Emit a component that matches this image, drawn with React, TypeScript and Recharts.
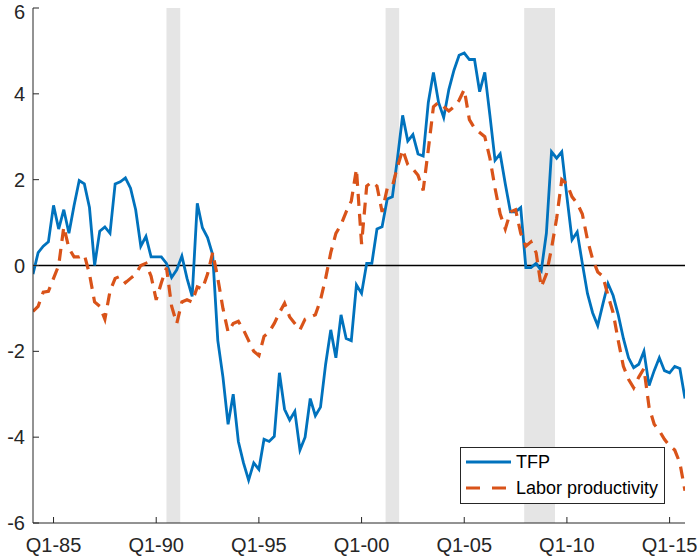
import React from 'react';
import { LineChart, Line, XAxis, YAxis, ReferenceArea, ReferenceLine, Legend } from 'recharts';

// quarterly series, Q1-84 .. Q4-15
const firstYear = 1984;

const tfp = [
  -0.2, 0.3, 0.45, 0.55, 1.4, 0.85, 1.3, 0.75, 1.4, 1.98,
  1.9, 1.35, 0.0, 0.8, 0.9, 0.75, 1.9, 1.95, 2.04, 1.8,
  1.3, 0.45, 0.68, 0.2, 0.2, 0.2, 0.05, -0.28, -0.1, 0.22,
  -0.3, -0.72, 1.45, 0.88, 0.65, 0.25, -1.75, -2.6, -3.7, -3.0,
  -4.1, -4.6, -5.0, -4.6, -4.75, -4.05, -4.1, -3.98, -2.5, -3.35,
  -3.6, -3.4, -4.3, -4.0, -3.1, -3.5, -3.3, -2.3, -1.5, -2.15,
  -1.15, -1.7, -1.75, -0.45, -0.65, 0.05, 0.05, 0.85, 0.9, 1.55,
  1.6, 2.5, 3.5, 2.9, 3.05, 2.6, 2.55, 3.8, 4.5, 3.8,
  3.45, 4.1, 4.55, 4.9, 4.95, 4.8, 4.8, 4.05, 4.5, 3.5,
  2.45, 2.6, 1.9, 1.25, 1.25, 1.35, -0.05, -0.05, 0.05, -0.12,
  0.75, 2.65, 2.5, 2.65, 1.6, 0.6, 0.78, 0.05, -0.65, -1.1,
  -1.4, -0.9, -0.42, -0.7, -1.15, -1.7, -2.15, -2.38, -2.3, -2.0,
  -2.8, -2.45, -2.15, -2.45, -2.5, -2.35, -2.4, -3.1,
];

const laborProductivity = [
  -1.07, -0.95, -0.62, -0.6, -0.3, 0.0, 0.9, 0.4, 0.2, 0.2,
  0.25, -0.2, -0.85, -0.95, -1.25, -0.6, -0.3, -0.25, -0.4, -0.3,
  -0.2, 0.0, 0.05, -0.25, -0.8, -0.4, -0.05, -0.95, -1.35, -0.85,
  -0.8, -0.85, -0.5, -0.55, -0.2, 0.3, -0.3, -1.0, -1.55, -1.35,
  -1.3, -1.5, -1.75, -2.0, -2.1, -1.65, -1.55, -1.35, -1.1, -0.88,
  -1.2, -1.35, -1.5, -1.25, -1.2, -1.15, -0.8, -0.3, 0.3, 0.75,
  0.95, 1.25, 1.5, 2.25, 0.5, 1.85, 1.95, 1.85, 1.25, 1.8,
  1.85, 2.3, 2.7, 2.35, 2.25, 2.1, 1.75, 2.7, 3.7, 3.8,
  3.7, 3.6, 3.7, 3.85, 4.1, 3.4, 3.2, 3.1, 3.0, 2.5,
  1.8, 1.2, 0.85, 1.25, 1.3, 0.75, 0.45, 0.55, 0.3, -0.5,
  -0.2, 0.4, 1.1, 2.0, 1.9, 1.6, 1.45, 1.2, 0.6, 0.15,
  -0.15, -0.25, -0.7, -1.1, -1.75, -2.35, -2.65, -2.85, -2.6, -2.4,
  -3.3, -3.7, -3.85, -4.05, -4.2, -4.3, -4.6, -5.25,
];

const seriesNames = ['TFP', 'Labor productivity'];
const yearTicks = [1985, 1990, 1995, 2000, 2005, 2010, 2015];
const valueTicks = [-6, -4, -2, 0, 2, 4, 6];

// NBER recessions as fractional years
const recessionStart = [1990.5, 2001.17, 2007.92];
const recessionEnd = [1991.17, 2001.83, 2009.42];

const data = tfp.map((v, i) => ({
  t: firstYear + i / 4,
  tfp: v,
  labor: laborProductivity[i],
}));
const xDomain = [firstYear, firstYear + (tfp.length - 1) / 4];

const BLUE = '#0072BD';
const ORANGE = '#D95319';
const AXIS = '#262626';
const FONT = '"Liberation Sans", Arial, Helvetica, sans-serif';

const fmtQuarter = (y: number) => 'Q1-' + String(y).slice(2);

const LegendBox = (props: any) => {
  const items = [...(props.payload || [])].sort(
    (a: any, b: any) => seriesNames.indexOf(a.value) - seriesNames.indexOf(b.value)
  );
  return (
    <svg width={206} height={58} style={{ display: 'block', fontFamily: FONT }}>
      <rect x={0.5} y={0.5} width={204} height={56} fill="#fff" stroke={AXIS} strokeWidth={1} />
      {items.map((item: any, i: number) => {
        const y = 15 + i * 26;
        const dashed = item.payload && item.payload.strokeDasharray;
        return (
          <g key={item.value}>
            <line
              x1={6}
              x2={51}
              y1={y}
              y2={y}
              stroke={item.color}
              strokeWidth={dashed ? 3.2 : 2.8}
              strokeDasharray={dashed ? '14 12' : undefined}
            />
            <text x={56} y={y} dominantBaseline="central" fontSize={18} fill="#000">
              {item.value}
            </text>
          </g>
        );
      })}
    </svg>
  );
};

export default function App() {
  const tickStyle = { fontSize: 20, fill: AXIS, fontFamily: FONT };
  return (
    <div style={{ position: 'absolute', left: 0, top: 0, width: 697, height: 558, background: '#fff' }}>
      <LineChart width={697} height={558} data={data} margin={{ top: 8, right: 12, bottom: 0, left: 0 }}>
        {recessionStart.map((s, i) => (
          <ReferenceArea
            key={s}
            x1={s}
            x2={recessionEnd[i]}
            fill="#e5e5e5"
            fillOpacity={1}
            stroke="none"
            ifOverflow="hidden"
          />
        ))}
        <XAxis
          dataKey="t"
          type="number"
          domain={xDomain}
          ticks={yearTicks}
          tickFormatter={fmtQuarter}
          tick={tickStyle}
          tickSize={-6}
          tickMargin={21}
          height={35}
          stroke={AXIS}
          allowDataOverflow
        />
        <XAxis
          xAxisId="top"
          orientation="top"
          dataKey="t"
          type="number"
          domain={xDomain}
          ticks={yearTicks}
          tick={false}
          tickSize={-6}
          height={0}
          stroke={AXIS}
          allowDataOverflow
        />
        <YAxis
          type="number"
          domain={[-6, 6]}
          ticks={valueTicks}
          tick={tickStyle}
          tickSize={-6}
          tickMargin={14}
          width={33}
          stroke={AXIS}
          allowDataOverflow
        />
        <YAxis
          yAxisId="right"
          orientation="right"
          type="number"
          domain={[-6, 6]}
          ticks={valueTicks}
          tick={false}
          tickSize={-6}
          width={0}
          stroke={AXIS}
          allowDataOverflow
        />
        <ReferenceLine y={0} stroke="#000" strokeWidth={1.5} />
        <Line
          type="linear"
          dataKey="tfp"
          name={seriesNames[0]}
          stroke={BLUE}
          strokeWidth={2.8}
          dot={false}
          isAnimationActive={false}
        />
        <Line
          type="linear"
          dataKey="labor"
          name={seriesNames[1]}
          stroke={ORANGE}
          strokeWidth={3.2}
          strokeDasharray="12 8"
          dot={false}
          isAnimationActive={false}
        />
        <Legend
          layout="vertical"
          align="center"
          verticalAlign="middle"
          wrapperStyle={{ left: 460, top: 447, width: 206, height: 58 }}
          content={LegendBox}
        />
      </LineChart>
    </div>
  );
}
